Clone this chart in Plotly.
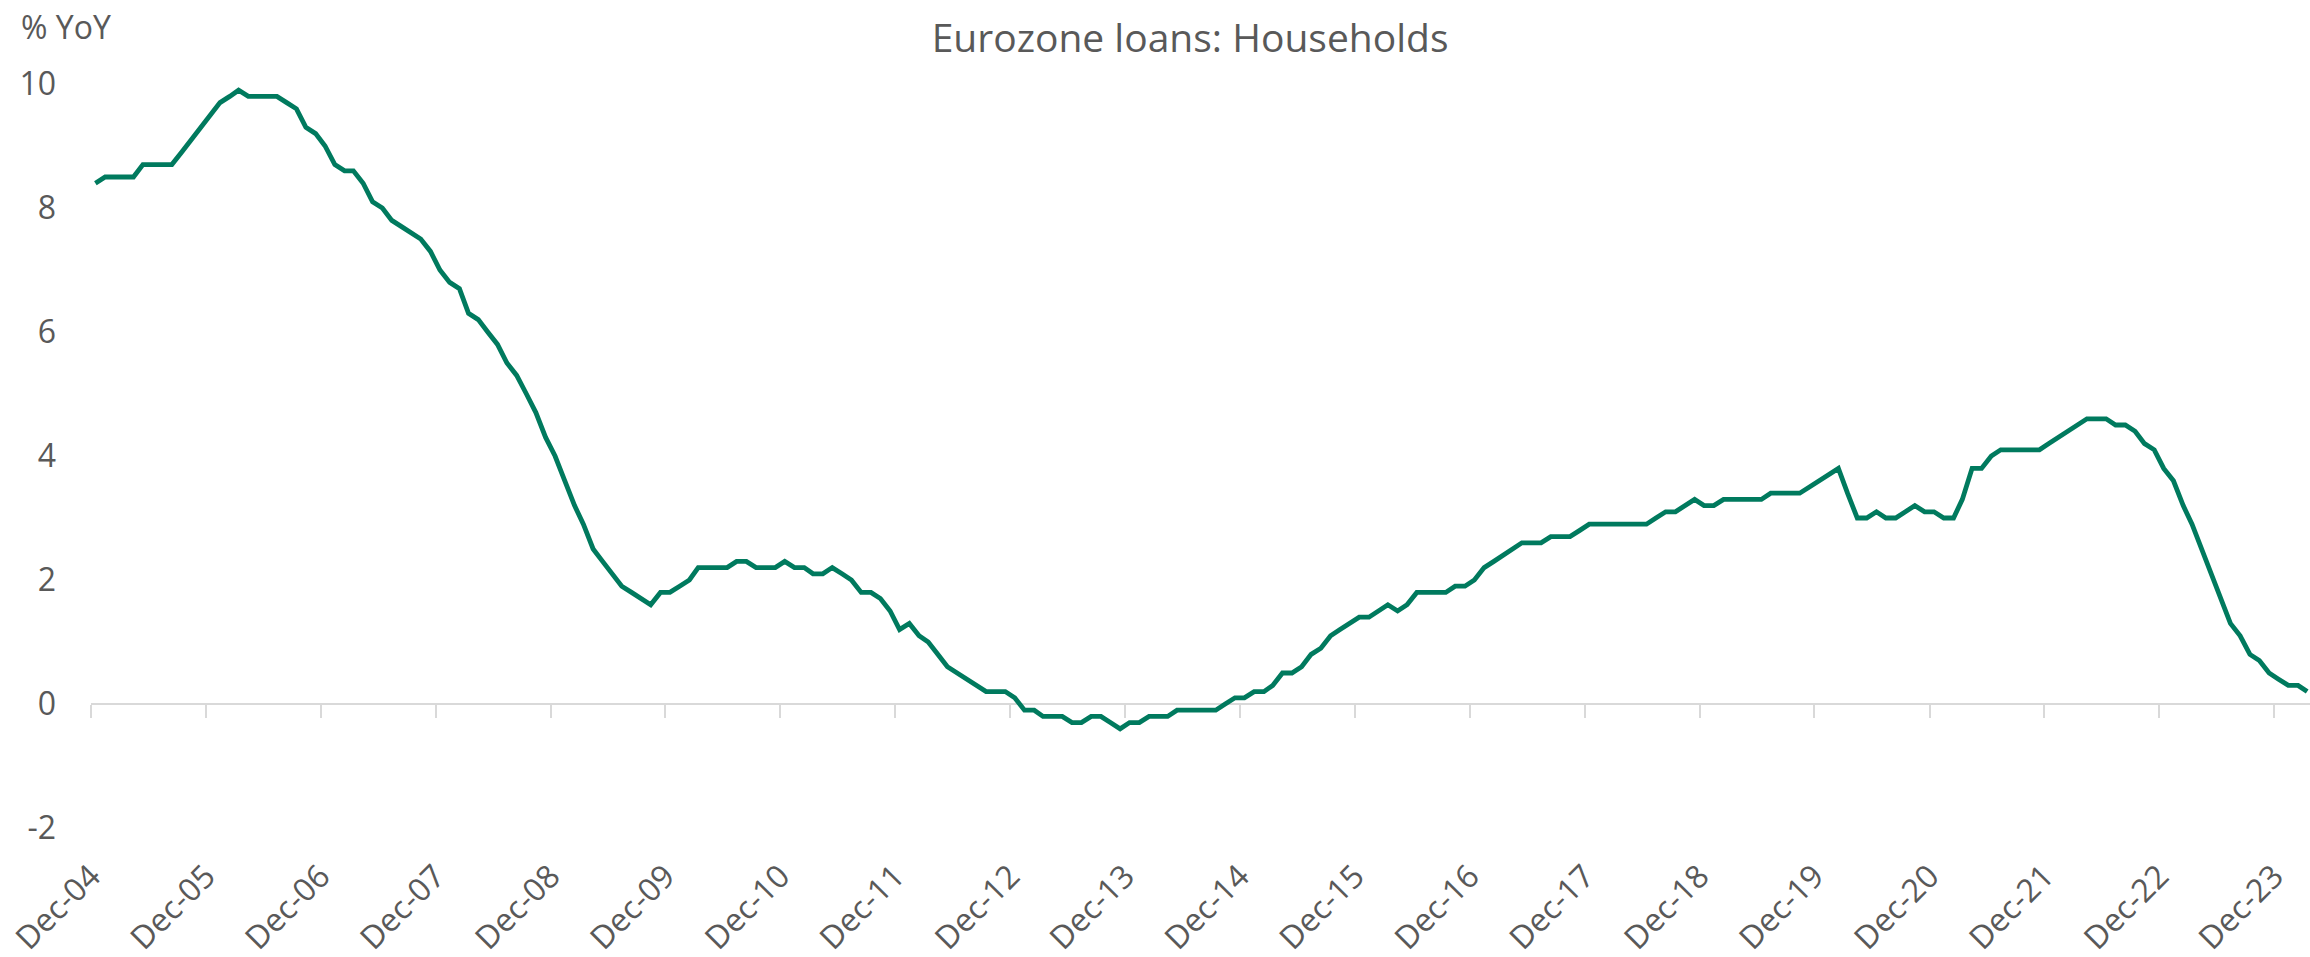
import pandas as pd
import plotly.graph_objects as go

# Eurozone household loans, % year-on-year, monthly from Dec-2004
loans_2005 = [8.4, 8.5, 8.5, 8.5, 8.5, 8.7, 8.7, 8.7, 8.7, 8.9, 9.1, 9.3]
loans_2006 = [9.5, 9.7, 9.8, 9.9, 9.8, 9.8, 9.8, 9.8, 9.7, 9.6, 9.3, 9.2]
loans_2007 = [9.0, 8.7, 8.6, 8.6, 8.4, 8.1, 8.0, 7.8, 7.7, 7.6, 7.5, 7.3]
loans_2008 = [7.0, 6.8, 6.7, 6.3, 6.2, 6.0, 5.8, 5.5, 5.3, 5.0, 4.7, 4.3]
loans_2009 = [4.0, 3.6, 3.2, 2.9, 2.5, 2.3, 2.1, 1.9, 1.8, 1.7, 1.6, 1.8]
loans_2010 = [1.8, 1.9, 2.0, 2.2, 2.2, 2.2, 2.2, 2.3, 2.3, 2.2, 2.2, 2.2]
loans_2011 = [2.3, 2.2, 2.2, 2.1, 2.1, 2.2, 2.1, 2.0, 1.8, 1.8, 1.7, 1.5]
loans_2012 = [1.2, 1.3, 1.1, 1.0, 0.8, 0.6, 0.5, 0.4, 0.3, 0.2, 0.2, 0.2]
loans_2013 = [0.1, -0.1, -0.1, -0.2, -0.2, -0.2, -0.3, -0.3, -0.2, -0.2, -0.3, -0.4]
loans_2014 = [-0.3, -0.3, -0.2, -0.2, -0.2, -0.1, -0.1, -0.1, -0.1, -0.1, 0.0, 0.1]
loans_2015 = [0.1, 0.2, 0.2, 0.3, 0.5, 0.5, 0.6, 0.8, 0.9, 1.1, 1.2, 1.3]
loans_2016 = [1.4, 1.4, 1.5, 1.6, 1.5, 1.6, 1.8, 1.8, 1.8, 1.8, 1.9, 1.9]
loans_2017 = [2.0, 2.2, 2.3, 2.4, 2.5, 2.6, 2.6, 2.6, 2.7, 2.7, 2.7, 2.8]
loans_2018 = [2.9, 2.9, 2.9, 2.9, 2.9, 2.9, 2.9, 3.0, 3.1, 3.1, 3.2, 3.3]
loans_2019 = [3.2, 3.2, 3.3, 3.3, 3.3, 3.3, 3.3, 3.4, 3.4, 3.4, 3.4, 3.5]
loans_2020 = [3.6, 3.7, 3.8, 3.4, 3.0, 3.0, 3.1, 3.0, 3.0, 3.1, 3.2, 3.1]
loans_2021 = [3.1, 3.0, 3.0, 3.3, 3.8, 3.8, 4.0, 4.1, 4.1, 4.1, 4.1, 4.1]
loans_2022 = [4.2, 4.3, 4.4, 4.5, 4.6, 4.6, 4.6, 4.5, 4.5, 4.4, 4.2, 4.1]
loans_2023 = [3.8, 3.6, 3.2, 2.9, 2.5, 2.1, 1.7, 1.3, 1.1, 0.8, 0.7, 0.5]
loans_2024 = [0.4, 0.3, 0.3, 0.2]

yoy = (loans_2005 + loans_2006 + loans_2007 + loans_2008 + loans_2009 + loans_2010
       + loans_2011 + loans_2012 + loans_2013 + loans_2014 + loans_2015 + loans_2016
       + loans_2017 + loans_2018 + loans_2019 + loans_2020 + loans_2021 + loans_2022
       + loans_2023 + loans_2024)

# monthly observations, plotted mid-month
months = pd.date_range("2004-12-01", periods=len(yoy), freq="MS") + pd.Timedelta(days=14)

tick_years = list(range(2004, 2024))
tick_dates = [f"{y}-12-01" for y in tick_years]
tick_text = [f"Dec-{y % 100:02d}" for y in tick_years]
y_ticks = [-2, 0, 2, 4, 6, 8, 10]
y_tick_text = [str(v) for v in y_ticks]

x_range = ["2004-12-01", "2024-03-24"]
TEXT = "#595959"
AXIS = "#D9D9D9"
FONT = "Open Sans"

fig = go.Figure()
fig.add_trace(go.Scatter(
    x=months, y=yoy, mode="lines",
    line=dict(color="#007A5E", width=4.8),
    xaxis="x", yaxis="y", hoverinfo="x+y", showlegend=False,
))
# companion axis that carries the zero line and its tick marks
fig.add_trace(go.Scatter(x=[], y=[], xaxis="x2", yaxis="y", showlegend=False))

fig.update_layout(
    width=2310, height=957,
    margin=dict(l=91, r=0, t=84, b=129),
    paper_bgcolor="white", plot_bgcolor="white",
    font=dict(family=FONT, color=TEXT, size=32),
    title=dict(
        text="Eurozone loans: Households",
        x=0.4953, xref="paper", xanchor="center",
        y=1 - 38 / 957, yref="container", yanchor="middle",
        font=dict(family=FONT, size=39, color=TEXT),
    ),
    xaxis=dict(
        type="date", range=x_range,
        tickvals=tick_dates, ticktext=tick_text, tickangle=-45,
        ticks="", showline=False, showgrid=False, zeroline=False,
        tickfont=dict(family=FONT, size=32, color=TEXT),
        ticklabelstandoff=22,
    ),
    xaxis2=dict(
        type="date", range=x_range, overlaying="x", anchor="free",
        position=2 / 12, side="bottom",
        tickvals=tick_dates, showticklabels=False,
        ticks="outside", ticklen=13, tickwidth=2, tickcolor=AXIS,
        showline=True, linewidth=2, linecolor=AXIS,
        showgrid=False, zeroline=False, layer="below traces",
    ),
    yaxis=dict(
        range=[-2, 10], tickvals=y_ticks, ticktext=y_tick_text,
        showgrid=False, zeroline=False, showline=False, ticks="",
        tickfont=dict(family=FONT, size=32, color=TEXT),
        ticklabelstandoff=34,
    ),
    annotations=[dict(
        text="% YoY", xref="paper", yref="paper",
        x=(19 - 91) / 2219, y=1 + (84 - 27) / 744,
        xanchor="left", yanchor="middle", showarrow=False,
        font=dict(family=FONT, size=32, color=TEXT),
    )],
)

fig.write_html("out.html")
